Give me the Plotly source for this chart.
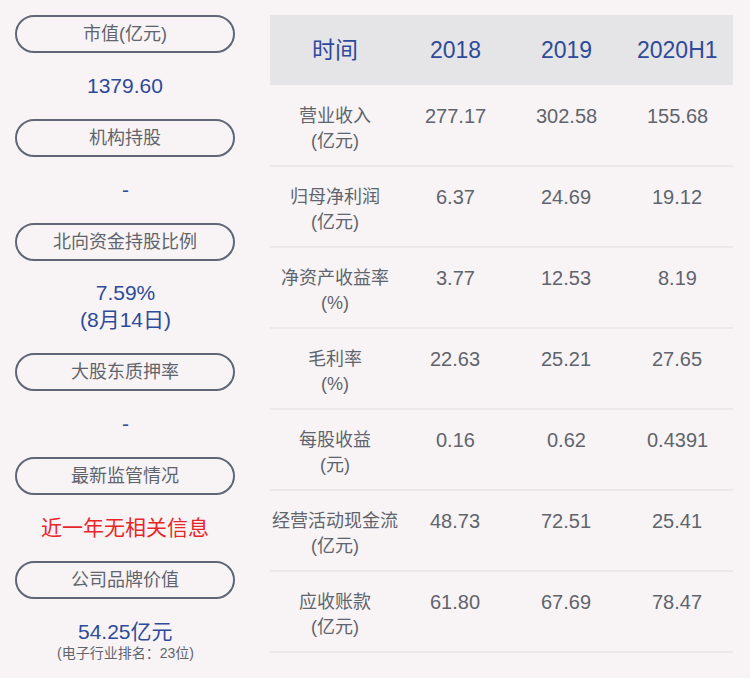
import plotly.graph_objects as go

left_titles = ["市值(亿元)", "机构持股", "北向资金持股比例", "大股东质押率", "最新监管情况", "公司品牌价值"]
left_values = ["1379.60", "-", "7.59%<br>(8月14日)", "-", "近一年无相关信息", "54.25亿元"]
left_value_colors = ["#2e4a9a", "#2e4a9a", "#2e4a9a", "#2e4a9a", "#e8262a", "#2e4a9a"]
brand_note = "(电子行业排名：23位)"

header = ["时间", "2018", "2019", "2020H1"]
row_label1 = ["营业收入", "归母净利润", "净资产收益率", "毛利率", "每股收益", "经营活动现金流", "应收账款"]
row_label2 = ["(亿元)", "(亿元)", "(%)", "(%)", "(元)", "(亿元)", "(亿元)"]
v2018 = ["277.17", "6.37", "3.77", "22.63", "0.16", "48.73", "61.80"]
v2019 = ["302.58", "24.69", "12.53", "25.21", "0.62", "72.51", "67.69"]
v2020 = ["155.68", "19.12", "8.19", "27.65", "0.4391", "25.41", "78.47"]

FONT = "Liberation Sans, Noto Sans CJK SC"
GRAY = "#60646c"
BLUE = "#2e4a9a"

fig = go.Figure()
shapes, ann = [], []

def pill(x0, x1, y0, y1, r):
    k = 0.5523 * r
    return (f"M{x0+r},{y0} L{x1-r},{y0} "
            f"C{x1-r+k},{y0} {x1},{y0+r-k} {x1},{y0+r} "
            f"C{x1},{y1-r+k} {x1-r+k},{y1} {x1-r},{y1} "
            f"L{x0+r},{y1} "
            f"C{x0+r-k},{y1} {x0},{y1-r+k} {x0},{y1-r} "
            f"C{x0},{y0+r-k} {x0+r-k},{y0} {x0+r},{y0} Z")

pill_tops = [16, 120, 224, 354, 458, 562]
val_y = [85, 189, 306, 423, 527, 631]
for t, title, val, col, vy in zip(pill_tops, left_titles, left_values, left_value_colors, val_y):
    shapes.append(dict(type="path", path=pill(16, 234, t, t + 36, 18),
                       line=dict(color="#5f6675", width=2), fillcolor="rgba(0,0,0,0)"))
    ann.append(dict(x=125, y=t + 18, text=title, showarrow=False,
                    font=dict(family=FONT, size=18, color=GRAY)))
    ann.append(dict(x=125, y=vy, text=val, showarrow=False,
                    font=dict(family=FONT, size=21, color=col)))
ann.append(dict(x=125, y=653, text=brand_note, showarrow=False,
                font=dict(family=FONT, size=14, color=GRAY)))

shapes.append(dict(type="rect", x0=270, x1=733, y0=15, y1=85, fillcolor="#e5e4e6", line_width=0))
col_x = [335, 455, 566, 677]
for x, h in zip(col_x, header):
    ann.append(dict(x=x, y=50, text=h, showarrow=False, font=dict(family=FONT, size=23, color=BLUE)))
for i, (l1, l2, a, b, c) in enumerate(zip(row_label1, row_label2, v2018, v2019, v2020)):
    top = 85 + 81 * i
    shapes.append(dict(type="line", x0=270, x1=733, y0=top + 81, y1=top + 81,
                       line=dict(color="#dedde0", width=1)))
    ann.append(dict(x=335, y=top + 31, text=l1, showarrow=False,
                    font=dict(family=FONT, size=18, color=GRAY)))
    ann.append(dict(x=335, y=top + 56, text=l2, showarrow=False,
                    font=dict(family=FONT, size=18, color=GRAY)))
    for x, v in zip(col_x[1:], [a, b, c]):
        ann.append(dict(x=x, y=top + 31, text=v, showarrow=False,
                        font=dict(family=FONT, size=20, color=GRAY)))

fig.update_layout(width=750, height=678, margin=dict(l=0, r=0, t=0, b=0),
                  paper_bgcolor="#f8f4f6", plot_bgcolor="#f8f4f6",
                  xaxis=dict(range=[0, 750], visible=False, fixedrange=True),
                  yaxis=dict(range=[678, 0], visible=False, fixedrange=True),
                  shapes=shapes, annotations=ann, showlegend=False)
fig.write_html("out.html", config={"displayModeBar": False},
               post_script="document.body.style.margin='0';document.body.style.background='#f8f4f6';")
